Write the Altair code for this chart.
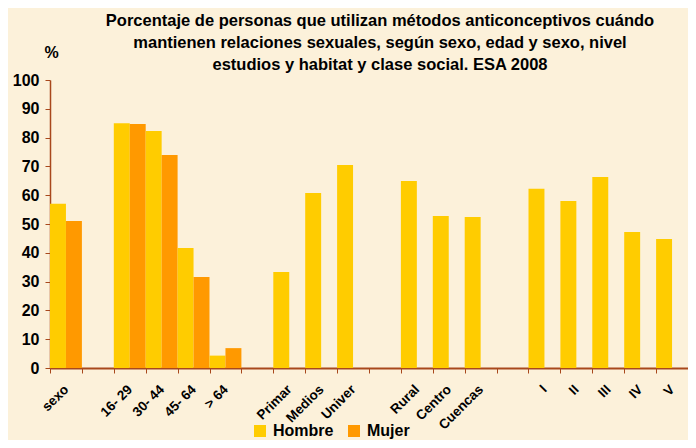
import altair as alt
import pandas as pd

categories = ["sexo", " ", "16- 29", "30- 44", "45- 64", "> 64", "  ",
              "Primar", "Medios", "Univer", "   ", "Rural", "Centro", "Cuencas",
              "    ", "I", "II", "III", "IV", "V"]
hombre = [57, None, 85, 82.3, 41.7, 4.3, None, 33.3, 60.8, 70.5, None,
          64.9, 52.8, 52.4, None, 62.2, 58.0, 66.3, 47.2, 44.8]
mujer = [51, None, 84.7, 74.0, 31.6, 6.9, None, None, None, None, None,
         None, None, None, None, None, None, None, None, None]
series = ["Hombre", "Mujer"]
colors = ["#FFCC00", "#FF9900"]
title_lines = ["Porcentaje de personas que utilizan métodos anticonceptivos cuándo",
               "mantienen relaciones sexuales, según sexo, edad y sexo, nivel",
               "estudios y habitat y clase social. ESA 2008"]

rows = []
for c, h, m in zip(categories, hombre, mujer):
    if h is not None:
        rows.append({"cat": c, "sexo": "Hombre", "val": h})
    if m is not None:
        rows.append({"cat": c, "sexo": "Mujer", "val": m})
df = pd.DataFrame(rows)

FONT = "Liberation Sans"
BROWN = "#A8481C"

chart = alt.Chart(df).mark_bar().encode(
    x=alt.X("cat:N", scale=alt.Scale(domain=categories, paddingInner=0, paddingOuter=0),
            axis=alt.Axis(title=None, labelAngle=-45, labelAlign="right", labelBaseline="middle",
                          labelFontSize=13.5, labelFontWeight="bold", labelColor="black", labelFont=FONT,
                          tickColor=BROWN, tickSize=5, domainColor=BROWN, domainWidth=2,
                          tickBand="extent", labelPadding=14)),
    xOffset=alt.XOffset("sexo:N", scale=alt.Scale(domain=series, paddingInner=0, paddingOuter=0)),
    y=alt.Y("val:Q", scale=alt.Scale(domain=[0, 100], nice=False),
            axis=alt.Axis(title="%", titleAngle=0, titleX=1, titleY=-23, titleAlign="center",
                          titleBaseline="alphabetic", titleFontSize=16, titleFont=FONT,
                          titleFontWeight="bold", titleColor="black",
                          values=list(range(0, 101, 10)), grid=False,
                          labelFontSize=16, labelFontWeight="bold", labelColor="black", labelFont=FONT,
                          labelPadding=6, tickColor=BROWN, tickSize=5, domainColor=BROWN,
                          domainWidth=1.5)),
    color=alt.Color("sexo:N", scale=alt.Scale(domain=series, range=colors),
                    legend=alt.Legend(title=None, orient="none", direction="horizontal",
                                      legendX=202, legendY=343, symbolType="square",
                                      symbolSize=144, symbolStrokeWidth=0, symbolOpacity=1,
                                      labelFontSize=16, labelFontWeight="bold", labelFont=FONT,
                                      labelColor="black", labelOffset=5, columnPadding=12)),
).properties(
    width=638, height=288,
    autosize=alt.AutoSizeParams(type="none"),
    padding={"left": 42, "top": 72, "right": 0, "bottom": 72},
    title=alt.TitleParams(text=title_lines, fontSize=16.5, fontWeight="bold", font=FONT,
                          color="black", anchor="middle", lineHeight=22, offset=8, dx=11,
                          dy=53, baseline="bottom"),
).configure(background="#FCF1DA").configure_view(stroke=None)

chart.save("out.html", embed_options={"renderer": "svg", "actions": False})
